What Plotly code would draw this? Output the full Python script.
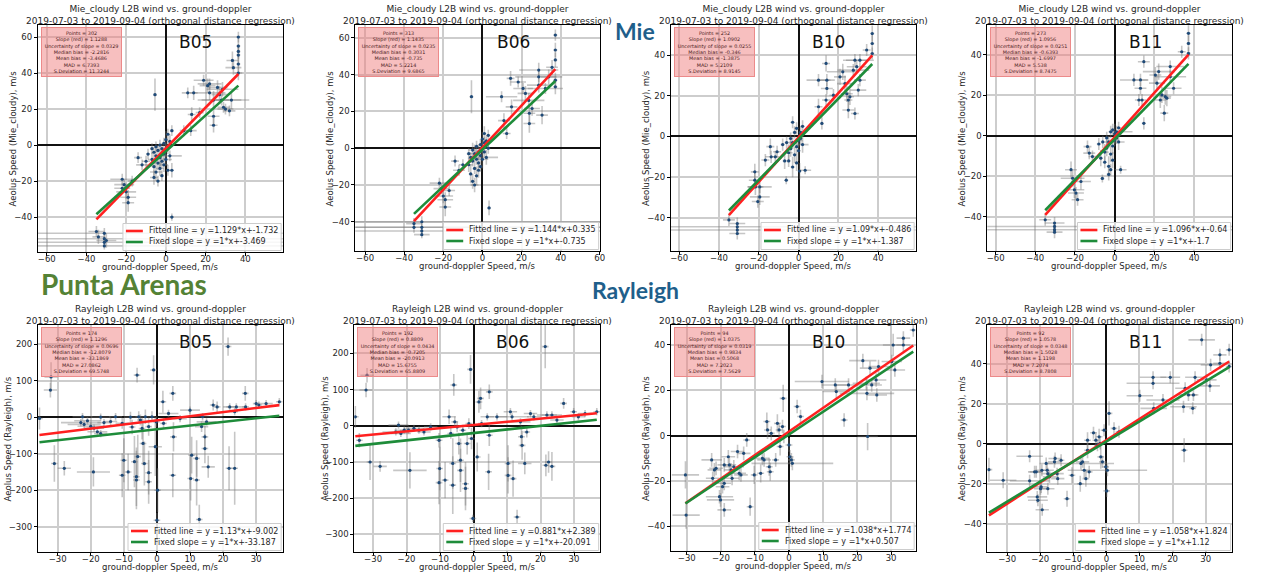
import plotly.graph_objects as go

W, H = 1263, 573
FONT = "DejaVu Sans"

# ---------------- data ----------------
# Mie_cloudy B05
MIE_B05_X = [-35, -34, -31, -31, -31, -31, -30,
             -22, -21, -20, -19, -19, -22, -17,
             -14, -12, -10, -9,
             -7, -7, -6, -6, -6, -5, -5, -5, -4, -4, -4, -3, -3, -3, -2, -2, -2, -1, -1, -1, 0, 0, 0, 1, 1, 1, 2, 2, 3, 3, 3,
             -5.5,
             9, 12.5, 13, 14, 11, 17, 19, 21, 22, 22, 24, 24, 24, 26, 27, 28, 28.5, 29, 30, 32, 33, 33.5, 34,
             36.5, 36.5, 36.5, 36.5, 36.5, 36.5]
MIE_B05_Y = [-48, -51, -49, -52, -54, -56, -53,
             -19, -22, -26, -29, -32, -24, -20,
             -7, -11, -9, -5,
             -2, -8, -4, -12, -18, -1, -6, -15, -3, -10, -20, 0, -7, -13, -2, -9, -17, -5, 1, -11, -3, 3, -8, -1, 6, -14, 2, -6, 8, -14, -40,
             28,
             8, 8, 17, 29, 29, 18, 36, 33, 29, 34, 25, 16, 11, 32, 28, 25, 31, 21, 20, 19, 25, 47, 43,
             60, 55, 52, 50, 45, 40]
MIE_B05_EX = [4, 3, 95, 95, 95, 95, 5,
              6, 5, 5, 4, 3, 4, 2,
              2, 3, 2, 1,
              1, 2, 1, 1, 2, 1, 1, 3, 1, 2, 1, 1, 1, 2, 1, 1, 1, 1, 1, 2, 1, 1, 3, 1, 1, 1, 1, 6, 1, 1, 1,
              1,
              2, 3, 2, 2, 3, 2, 5, 4, 8, 6, 8, 3, 2, 5, 4, 10, 8, 3, 4, 3, 9, 3, 4,
              1, 1, 1, 1, 1, 2]
MIE_B05_EY = [3, 4, 3, 2, 2, 2, 4,
              3, 3, 4, 4, 5, 3, 3,
              3, 3, 3, 3,
              3, 4, 3, 5, 4, 3, 4, 5, 3, 4, 3, 3, 5, 4, 3, 4, 3, 3, 3, 4, 4, 5, 3, 4, 3, 3, 4, 3, 3, 4, 2,
              9,
              3, 3, 4, 4, 3, 3, 3, 4, 4, 3, 5, 5, 4, 4, 5, 3, 4, 3, 3, 3, 5, 5, 4,
              3, 4, 4, 5, 5, 4]

# Mie_cloudy B06
MIE_B06_X = [-35, -35, -31, -31, -31, -31,
             -22, -21, -20, -19, -19, -17, -14, -10, -12,
             -5.6, 3.4,
             -7, -7, -6, -6, -5, -5, -5, -4, -4, -4, -3, -3, -3, -2, -2, -2, -1, -1, -1, 0, 0, 0, 1, 1, 1, 2, 2, 3, 3,
             9.8, 11, 12.4, 14.4, 14.9, 18.3, 20.8, 22, 23.7, 24, 24, 25.4, 28.8, 28.8, 28.8, 30.5, 32.2, 33.9, 35.6,
             37.3, 37.3, 37.3, 37.3, 37.3]
MIE_B06_Y = [-41, -43, -40, -43, -45, -47,
             -19, -22, -26, -28, -32, -23, -7, -9, -12,
             28, -32.5,
             -3, -9, -5, -14, -1, -7, -18, -3, -11, -20, 1, -6, -15, -2, -8, -12, -4, 2, -10, 0, 5, -6, 3, 8, -2, 4, -5, 7, 0,
             28, 15, 8, 38, 22.5, 36, 32.5, 29.8, 26, 19, 13.4, 21.6, 42.5, 38.8, 34.3, 18, 32.5, 38.8, 44,
             61.5, 53.4, 48, 37, 33.4]
MIE_B06_EX = [4, 95, 95, 95, 95, 4,
              5, 4, 5, 4, 3, 3, 2, 2, 3,
              1, 1,
              1, 2, 1, 1, 2, 1, 1, 3, 1, 2, 1, 1, 1, 2, 1, 1, 1, 1, 1, 2, 1, 3, 1, 1, 1, 1, 6, 1, 1,
              8, 3, 2, 2, 3, 4, 5, 4, 8, 3, 3, 4, 10, 12, 6, 3, 9, 4, 3,
              1, 1, 1, 1, 1]
MIE_B06_EY = [3, 3, 3, 2, 2, 2,
              3, 3, 4, 4, 5, 3, 3, 3, 3,
              9, 4,
              3, 4, 3, 5, 4, 3, 4, 5, 3, 4, 3, 3, 5, 4, 3, 4, 3, 3, 3, 4, 4, 5, 3, 4, 3, 3, 4, 3, 3,
              3, 4, 3, 4, 4, 3, 3, 4, 4, 5, 5, 4, 4, 3, 4, 5, 3, 4, 4,
              3, 4, 4, 4, 4]

# Mie_cloudy B10
MIE_B10_X = [-35, -30.8, -30.8, -30.8, -30.8,
             -22, -22, -21.7, -19.5, -19.5, -20.5, -16.7, -14.2, -13.8, -11.7, -10.8, -6.2,
             -8, -7, -6, -5, -5, -4, -4, -3, -3, -3, -2, -2, -1, -1, -1, 0, 0, 0.5, 1, 1, 2, 2, 3.3,
             10, 13.8, 14.2, 14.2, 10, 11.7, 13.8, 17.5, 20.8, 22.2, 23.3, 24.2, 25, 25, 25.8, 27.5, 28.3, 30,
             30.8, 30.8, 34.2, 37, 37, 37, 28.3, 29.2]
MIE_B10_Y = [-41, -42.8, -44.4, -46, -47.7,
             -17.4, -21.5, -24.8, -24.8, -29.7, -32, -11.6, -5, -10, -10, -7.5, -21.5,
             -4, -12, -3, -8, -12, -1, -6, -15, -3, 7, 2, -9, -5, 4, -13, -2, -7, -17, 2, -1, 5, -4, -16.6,
             27.7, 35.9, 27.7, 23.6, 14.6, 6.4, 17.9, 20.3, 29.3, 31.8, 26, 21, 17.9, 13, 19.5, 32.6, 11.3, 22.8,
             27.7, 37.5, 42.5, 50.6, 45.7, 40.8, 37.5, 34.3]
MIE_B10_EX = [3, 4, 95, 95, 4,
              2, 3, 4, 6, 5, 3, 2, 2, 3, 2, 2, 1,
              1, 1, 1, 2, 1, 1, 1, 1, 2, 1, 1, 1, 1, 1, 1, 2, 1, 1, 1, 1, 1, 3, 3,
              6, 2, 4, 3, 2, 1, 2, 2, 3, 8, 4, 3, 2, 3, 2, 8, 2, 4,
              3, 7, 2, 1, 1, 1, 6, 5]
MIE_B10_EY = [3, 3, 2, 2, 3,
              4, 4, 4, 3, 4, 3, 3, 4, 3, 3, 3, 2,
              3, 4, 3, 4, 3, 3, 4, 5, 3, 3, 3, 4, 4, 3, 4, 3, 5, 4, 3, 3, 3, 4, 2,
              3, 4, 3, 3, 4, 3, 3, 3, 4, 4, 4, 4, 4, 4, 4, 3, 3, 3,
              3, 3, 3, 4, 4, 3, 3, 3]

# Mie_cloudy B11
MIE_B11_X = [-35, -30.3, -30.3, -30.3, -30.3,
             -22, -21.2, -20.3, -19.5, -18.7, -17, -13.7, -12.8, -11.2, -6.2, -2, 3,
             -8, -7, -6, -5, -5, -4, -4, -3, -3, -3, -2, -2, -1, -1, -1, 0, 0, 1, 1, 2, 2, 3,
             14.7, 9.7, 13, 13, 12.2, 13.8, 14.7, 20.5, 21.3, 22.2, 23, 23.8, 25, 25.5, 26.3, 28, 28, 29.7,
             33.8, 37.2, 37.2, 37.2]
MIE_B11_Y = [-41.4, -43, -44.7, -46.3, -47.5,
             -16.7, -20.9, -26.6, -28.2, -31.5, -22.5, -5.3, -8.5, -10.2, -21, -16.7, -16.7,
             -4, -11, -3, -8, -13, -1, -6, -15, -3, -19, 2, -9, -5, 3, -12, -2, 1, 2, -1, 4, -3, 2,
             36.6, 27.6, 27.6, 23.5, 17.7, 17.7, 6.2, 30, 26, 31.7, 17.7, 20.2, 11.2, 19.4, 18.6, 34.2, 29.2, 23.5,
             41.5, 50.6, 45.6, 40.7]
MIE_B11_EX = [3, 5, 95, 95, 4,
              3, 6, 5, 4, 3, 5, 2, 3, 2, 1, 1, 3,
              1, 1, 1, 2, 1, 1, 1, 1, 2, 1, 1, 1, 1, 1, 1, 2, 1, 1, 1, 1, 3, 6,
              3, 7, 4, 3, 2, 2, 1, 3, 4, 8, 3, 2, 2, 3, 2, 7, 8, 4,
              2, 1, 1, 1]
MIE_B11_EY = [3, 3, 2, 2, 3,
              4, 4, 4, 3, 3, 4, 3, 3, 3, 2, 3, 2,
              3, 4, 3, 4, 3, 3, 4, 5, 3, 3, 3, 4, 4, 3, 4, 3, 5, 3, 3, 3, 4, 2,
              3, 3, 3, 3, 3, 3, 3, 4, 4, 4, 4, 4, 4, 4, 4, 3, 3, 3,
              3, 4, 4, 3]

# Rayleigh B05
RAY_B05_X = [-35.5, -32, -32.2, -31, -28, -22.5, -23, -22, -21, -20, -19, -18, -17, -16, -14, -19.2, -17, -12.5,
             -10.5, -10, -10.5, -8.7, -8, -7.5, -6.8, -6.2, -6.2, -6, -5.8, -5.5, -5, -4.5, -4.2, -3.8, -3.5,
             -2.5, -2.5, -2.5, -1.5, -1, -0.5, -0.2, 0.2, 0,
             1.8, 2, 3.5, 4.8, 5, 4.8, 7,
             10, 10.5, 10.2, 12, 12, 12.8, 13.5, 13.8, 14.5, 14.5, 15.5, 17, 18.2, 21.5, 21.8, 22, 23.5, 23.5,
             24, 26.7, 26.8, 30, 30.8, 33, 37, 15]
RAY_B05_Y = [-3.6, 110, 74, -127, -140, 1, -15, -20, -10, -25, -30, -40, -45, -15, -12, -150, 0, 1,
             -17, -118, -159, -150, 0, -27, -122, -163, -172, 115, -108, 1, -8, -31, -72, -127, 1,
             -26, -152, -177, 1, 129, -81, -13, -200, -282,
             42, -17, 10, 65, -54, -159, -4,
             19, -104, -168, -113, -172, -280, -26, 1, -86, -54, -136, 33, 28, 193, -140, 28, -140, 15,
             28, 65, 28, 37, 33, 37, 42, -13]
RAY_B05_EX = [1, 2, 2, 1, 2, 3, 6, 5, 4, 4, 3, 3, 2, 2, 2, 5, 3, 2,
              2, 1, 1, 1, 2, 1, 1, 1, 1, 1, 1, 1, 1, 1, 1, 1, 1,
              1, 1, 1, 1, 1, 2, 1, 1, 1,
              1, 1, 3, 1, 1, 1, 2,
              3, 1, 1, 1, 1, 1, 2, 6, 1, 1, 2, 1, 1, 1, 1, 2, 1, 1,
              3, 1, 1, 1, 1, 2, 1, 3]
RAY_B05_EY = [30, 40, 20, 50, 20, 10, 10, 10, 10, 10, 10, 10, 10, 10, 10, 40, 10, 10,
              15, 60, 60, 50, 15, 20, 70, 80, 80, 20, 60, 15, 15, 30, 60, 60, 20,
              25, 60, 60, 15, 40, 80, 15, 60, 20,
              30, 15, 10, 20, 40, 60, 10,
              10, 50, 60, 50, 70, 40, 15, 10, 40, 30, 30, 15, 15, 25, 60, 10, 100, 10,
              10, 20, 10, 10, 10, 10, 10, 10]

# Rayleigh B06
RAY_B06_X = [-35.3, -34.1, -31.8, -32.1, -30.9, -27.9, -22.4, -23.2, -21.7, -20.7, -19.4, -19, -17.8, -16.3, -14.8, -12.8,
             -10.3, -10.1, -10.3, -8.5, -7.3, -6.8, -6.2, -6.2, -5.9, -5.6, -4.9, -4.4, -3.9, -3.9, -3.2,
             -2.4, -2.4, -1.9, -1.4, -0.9, -0.6, -0.2,
             1.1, 1.6, 2.1, 2.4, 4.1, 4.7, 4.7, 4.5, 7,
             10.3, 10.3, 11, 11.5, 11.8, 13, 14, 14.3, 14.5, 15.3, 15.9, 17, 18, 21.4, 21.6, 22.4, 23.4,
             21.9, 23.4, 24.9, 26.9, 29.9, 31.3, 33.3, 36.8]
RAY_B06_Y = [25, -40, 140, 99, -100, -112, 2, -17, -21, -12, -12, -123, -7, -12, -17, -3,
             -40, -118, -157, -150, 25, -21, -104, -164, 113, 11, -3, -49, -95, -123, -12,
             -160, -173, -49, 6, 156, -35, -256,
             -86, 66, 76, 6, 25, 94, -26, -127, 25,
             -104, -137, 39, 25, -146, -252, 11, -30, -54, -104, -17, 34, 25, 219, -109, -100, -112,
             30, 30, 16, 62, 39, 25, 34, 39]
RAY_B06_EX = [1, 1, 2, 2, 1, 2, 3, 4, 3, 3, 2, 5, 3, 2, 2, 2,
              1, 1, 1, 1, 2, 1, 1, 1, 1, 1, 1, 1, 1, 1, 1,
              1, 1, 1, 1, 1, 1, 1,
              1, 1, 1, 1, 2, 1, 1, 1, 3,
              1, 1, 2, 5, 1, 1, 3, 1, 1, 2, 1, 2, 2, 1, 1, 1, 1,
              3, 3, 2, 1, 1, 2, 2, 1]
RAY_B06_EY = [30, 20, 20, 20, 50, 15, 10, 10, 10, 10, 10, 50, 10, 10, 10, 10,
              20, 60, 60, 50, 20, 15, 70, 80, 30, 15, 15, 30, 60, 60, 15,
              60, 60, 30, 15, 40, 30, 10,
              40, 30, 30, 10, 10, 20, 30, 50, 10,
              50, 50, 10, 10, 50, 20, 10, 30, 40, 30, 15, 10, 10, 60, 30, 30, 40,
              10, 10, 10, 15, 10, 10, 10, 10]

# Rayleigh B10
RAY_B10_X = [-30.4, -30.2, -22.7, -22.4, -21.9, -21.4, -20.4, -20.1, -19.5, -19,
             -19, -19, -17.8, -17.5, -17, -16.7, -16.2, -15.1, -14.6, -14.1,
             -13.3, -12.4, -11.4, -10.2, -8.3, -7.8, -7.3, -6.5, -6.3, -5.8,
             -5.5, -5.2, -3.9, -3.4, -2.9, -2.6, -1.9, -1.7, -1.5, 0,
             0.3, 0.7, 1, 2.4, 3.4,
             9.7, 13.6, 13.9, 16.2, 17.5, 21.7, 22.7, 22.9, 23.1, 23.8,
             24.3, 25.6, 25.8, 26.3, 30.2, 30.6, 31.1, 33.6, 33.6, 36.5]
RAY_B10_Y = [-17.3, -35, -10.7, -18.8, -15.1, -14.4, -26.9, -28.3, -22.5, -21,
             -32.7, -12.9, -9.3, -12.9, -15.1, -18.8, -13.7, -7, -16.6, -17.3,
             -7.8, -1.9, -31.3, -17.3, -16.6, -10, -10.7, 6.2, 2.5, -13.7,
             -15.9, 1, -10.7, 5.4, 2.5, -4.8, 4, 16.4, -0.4, -4.1,
             -9.3, -10.7, -12.2, 12.8, 8.4,
             23.8, 22.3, 19.4, 6.9, 22.3, 33, 23, 18.6, -0.4, 29.7,
             22.3, 24.5, 17.9, 30.4, 32.6, 39.9, 28.9, 42.9, 39.9, 46.5]
RAY_B10_EX = [4, 4, 3, 2, 2, 2, 4, 4, 2, 2,
              2, 2, 2, 2, 2, 2, 3, 2, 2, 2,
              2, 1, 1, 1, 1, 2, 2, 1, 1, 1,
              1, 1, 1, 1, 1, 1, 1, 1, 1, 1,
              1, 1, 12, 1, 1,
              8, 4, 4, 1, 4, 4, 4, 8, 3, 3,
              3, 3, 3, 3, 3, 3, 3, 2, 2, 1]
RAY_B10_EY = [6, 6, 3, 3, 3, 3, 3, 3, 3, 3,
              3, 3, 3, 3, 3, 3, 3, 3, 3, 3,
              3, 3, 4, 4, 4, 3, 3, 4, 4, 4,
              4, 3, 3, 4, 3, 4, 3, 6, 3, 3,
              3, 3, 3, 3, 3,
              3, 3, 3, 3, 3, 3, 3, 3, 6, 3,
              3, 3, 3, 3, 3, 5, 3, 3, 3, 3]

# Rayleigh B11
RAY_B11_X = [-35.5, -31.2, -23.2, -23.2, -21.7, -21.2, -20.9, -20.7, -19.9, -19.7,
             -19.4, -19.5, -18.2, -17.9, -17.7, -17.7, -17.2, -15.7, -15.5, -14.9,
             -14.7, -13.7, -11.9, -10.4, -7.9, -7.7, -7.2, -6.7, -6.2, -5.7,
             -5.7, -5.2, -3.9, -3.2, -2.7, -2.2, -1.9, -1.7, -1.2, -0.7,
             -0.2, 0.3, 0.1, 0.8, 2.3, 3.8,
             10.1, 14.1, 14.1, 14.3, 17.1, 19.3, 23.3, 23.5, 23.8, 24.8,
             26.1, 26.3, 26.8, 28.8, 30.3, 31.3, 31.5, 34.3, 34.3, 37.1, 37.1]
RAY_B11_Y = [-12.9, -18.2, -6.2, -18.5, -14, -14, -26.5, -28.2, -22.4, -21.5,
             -32.9, -13.2, -9.8, -13.2, -14.9, -22.4, -16.5, -9, -7.3, -14.9,
             -17.4, -8.2, -27.4, -15.7, -19.9, -9.8, -9, -13.2, -17.4, 1.8,
             -3.2, -14, 5.5, 1.8, -0.7, 3.5, 0.2, -6.5, -9, 6.8,
             -11.5, -13.2, -23.5, 15.2, 7.7, 6,
             24, 30.2, 33.2, 17.7, 21.9, 33.2, 18.5, -3.2, 27.7, 24.4,
             17.7, 24.4, 33.2, 51.9, 31.9, 28.9, 39.4, 40.2, 44.4, 46.9, 38.6]
RAY_B11_EX = [1, 4, 4, 6, 2, 2, 3, 3, 2, 2,
              2, 2, 2, 2, 2, 2, 2, 2, 2, 2,
              2, 1, 1, 1, 1, 10, 2, 1, 1, 1,
              1, 1, 1, 1, 1, 1, 1, 1, 1, 1,
              1, 12, 1, 1, 1, 1,
              4, 8, 4, 4, 5, 3, 4, 1, 3, 3,
              1, 1, 3, 4, 3, 3, 3, 2, 2, 1, 1]
RAY_B11_EY = [6, 4, 3, 3, 3, 3, 3, 3, 3, 3,
              3, 3, 3, 3, 3, 3, 3, 3, 3, 3,
              3, 3, 4, 4, 4, 3, 3, 4, 4, 4,
              4, 3, 3, 4, 3, 4, 3, 6, 3, 3,
              3, 3, 3, 6, 3, 3,
              3, 3, 3, 3, 3, 3, 3, 6, 3, 3,
              3, 3, 3, 3, 3, 3, 3, 3, 3, 3, 3]

# statistics boxes: points, slope, uncertainty, median bias, mean bias, MAD, S.Deviation
STAT_LABELS = ["Points", "Slope (red)", "Uncertainty of slope", "Median bias",
               "Mean bias", "MAD", "S.Deviation"]
STATS_MIE_B05 = [302, 1.1288, 0.0329, -2.2816, -3.4686, 6.7393, 11.3244]
STATS_MIE_B06 = [313, 1.1435, 0.0235, 0.3031, -0.735, 5.2214, 9.6865]
STATS_MIE_B10 = [252, 1.0902, 0.0255, -0.346, -1.3875, 5.2109, 8.9145]
STATS_MIE_B11 = [273, 1.0956, 0.0251, -0.6393, -1.6997, 5.538, 8.7475]
STATS_RAY_B05 = [174, 1.1296, 0.0696, -12.8079, -33.1869, 27.0862, 69.5748]
STATS_RAY_B06 = [192, 0.8809, 0.0434, -0.7205, -20.0913, 15.6755, 65.8809]
STATS_RAY_B10 = [94, 1.0375, 0.0319, 0.9834, 0.5068, 7.2023, 7.5629]
STATS_RAY_B11 = [92, 1.0578, 0.0348, 1.5028, 1.1198, 7.2074, 8.7808]

# fits: [slope, intercept] of fitted line, intercept of fixed-slope (=1) line
FIT_MIE_B05 = [1.129, -1.732, -3.469]
FIT_MIE_B06 = [1.144, 0.335, -0.735]
FIT_MIE_B10 = [1.09, -0.486, -1.387]
FIT_MIE_B11 = [1.096, -0.64, -1.7]
FIT_RAY_B05 = [1.13, -9.002, -33.187]
FIT_RAY_B06 = [0.881, 2.389, -20.091]
FIT_RAY_B10 = [1.038, 1.774, 0.507]
FIT_RAY_B11 = [1.058, 1.824, 1.12]

# ---------------- layout of the panels (pixels) ----------------
PANELS = [
    dict(x=MIE_B05_X, y=MIE_B05_Y, ex=MIE_B05_EX, ey=MIE_B05_EY, st=STATS_MIE_B05, fit=FIT_MIE_B05, ytoff=25,
         kind="Mie_cloudy", label="B05", box=(37, 25, 283, 252), xr=(-64.5, 58.8), yr=(-59.4, 66.7), dx=20, dy=20),
    dict(x=MIE_B06_X, y=MIE_B06_Y, ex=MIE_B06_EX, ey=MIE_B06_EY, st=STATS_MIE_B06, fit=FIT_MIE_B06, ytoff=25,
         kind="Mie_cloudy", label="B06", box=(356, 25, 602, 251), xr=(-65, 60.2), yr=(-55.9, 67), dx=20, dy=20),
    dict(x=MIE_B10_X, y=MIE_B10_Y, ex=MIE_B10_EX, ey=MIE_B10_EY, st=STATS_MIE_B10, fit=FIT_MIE_B10, ytoff=25,
         kind="Mie_cloudy", label="B10", box=(673, 25, 919, 251), xr=(-64.2, 58.8), yr=(-56.3, 54.8), dx=20, dy=20),
    dict(x=MIE_B11_X, y=MIE_B11_Y, ex=MIE_B11_EX, ey=MIE_B11_EY, st=STATS_MIE_B11, fit=FIT_MIE_B11, ytoff=25,
         kind="Mie_cloudy", label="B11", box=(991, 25, 1237, 251), xr=(-64.2, 59.2), yr=(-56.8, 54.7), dx=20, dy=20),
    dict(x=RAY_B05_X, y=RAY_B05_Y, ex=RAY_B05_EX, ey=RAY_B05_EY, st=STATS_RAY_B05, fit=FIT_RAY_B05, ytoff=30,
         kind="Rayleigh", label="B05", box=(37, 325, 283, 552), xr=(-36, 38), yr=(-369, 252), dx=10, dy=100),
    dict(x=RAY_B06_X, y=RAY_B06_Y, ex=RAY_B06_EX, ey=RAY_B06_EY, st=STATS_RAY_B06, fit=FIT_RAY_B06, ytoff=30,
         kind="Rayleigh", label="B06", box=(355, 325, 602, 552), xr=(-35.6, 37.8), yr=(-348.7, 278.7), dx=10, dy=100),
    dict(x=RAY_B10_X, y=RAY_B10_Y, ex=RAY_B10_EX, ey=RAY_B10_EY, st=STATS_RAY_B10, fit=FIT_RAY_B10, ytoff=25,
         kind="Rayleigh", label="B10", box=(673, 325, 919, 551), xr=(-34.7, 37.2), yr=(-50.8, 48.7), dx=10, dy=20),
    dict(x=RAY_B11_X, y=RAY_B11_Y, ex=RAY_B11_EX, ey=RAY_B11_EY, st=STATS_RAY_B11, fit=FIT_RAY_B11, ytoff=26,
         kind="Rayleigh", label="B11", box=(991, 325, 1237, 552), xr=(-36, 38), yr=(-54, 59.3), dx=10, dy=20),
]

# DejaVu Sans advance widths (em) for legend box sizing
CW = {'F': .575, 'i': .278, 't': .392, 'e': .615, 'd': .635, ' ': .318, 'l': .278, 'n': .634,
      '=': .838, 'y': .592, '*': .5, 'x': .592, '+': .838, '-': .361, '.': .318, 'o': .612,
      's': .521, 'p': .635}


def text_w(s, size):
    return sum(CW.get(c, .636) for c in s) * size


RED = "#ff2020"
GREEN = "#1e8c3a"
TXT = "#262626"
LEG_FS = 8

fig = go.Figure()
layout = dict(width=W, height=H, margin=dict(l=0, r=0, t=0, b=0),
              paper_bgcolor="white", plot_bgcolor="white", showlegend=False,
              font=dict(family=FONT, size=8, color=TXT))
annotations = []
shapes = []

for i, p in enumerate(PANELS, start=1):
    xa = "x" if i == 1 else f"x{i}"
    ya = "y" if i == 1 else f"y{i}"
    L, T, R, B = p["box"]
    axis_common = dict(showline=True, mirror=True, linecolor="black", linewidth=1,
                       ticks="outside", ticklen=3, tickwidth=1, tickcolor="black",
                       showgrid=True, gridcolor="#cdcdcd", gridwidth=1.6,
                       zeroline=True, zerolinecolor="#111111", zerolinewidth=2,
                       tickfont=dict(family=FONT, size=8.5, color=TXT), tick0=0)
    layout["xaxis" if i == 1 else f"xaxis{i}"] = dict(
        axis_common, domain=[L / W, R / W], anchor=ya, range=list(p["xr"]), dtick=p["dx"],
        ticklabelstandoff=-4)
    layout["yaxis" if i == 1 else f"yaxis{i}"] = dict(
        axis_common, domain=[1 - B / H, 1 - T / H], anchor=xa, range=list(p["yr"]), dtick=p["dy"])

    fig.add_trace(go.Scatter(
        x=p["x"], y=p["y"], mode="markers", xaxis=xa, yaxis=ya,
        marker=dict(color="#1f4a78", size=3.2),
        error_x=dict(type="data", array=p["ex"], symmetric=True, color="rgba(120,120,120,0.42)", thickness=1.6, width=0),
        error_y=dict(type="data", array=p["ey"], symmetric=True, color="rgba(120,120,120,0.42)", thickness=1.6, width=0),
        hoverinfo="skip"))
    a, b, c = p["fit"]
    xs = [min(p["x"]), max(p["x"])]
    fig.add_trace(go.Scatter(x=xs, y=[a * v + b for v in xs], mode="lines", xaxis=xa, yaxis=ya,
                             line=dict(color=RED, width=2.6), hoverinfo="skip"))
    fig.add_trace(go.Scatter(x=xs, y=[v + c for v in xs], mode="lines", xaxis=xa, yaxis=ya,
                             line=dict(color=GREEN, width=2.6), hoverinfo="skip"))

    xd = f"{xa} domain"
    yd = f"{ya} domain"
    # axis titles
    annotations.append(dict(xref="paper", yref="paper", x=(L + R) / 2 / W, y=1 - (B + 14.5) / H,
                            xanchor="center", yanchor="middle", showarrow=False,
                            text="ground-doppler Speed, m/s", font=dict(family=FONT, size=8.5, color=TXT)))
    annotations.append(dict(xref="paper", yref="paper", x=(L - p["ytoff"]) / W, y=1 - (T + B) / 2 / H,
                            xanchor="center", yanchor="middle", showarrow=False, textangle=-90,
                            text=f"Aeolus Speed ({p['kind']}), m/s", font=dict(family=FONT, size=8.5, color=TXT)))
    # panel title
    annotations.append(dict(
        xref=xd, yref=yd, x=0.5, y=1, xanchor="center", yanchor="bottom", yshift=-3, showarrow=False,
        text=f"{p['kind']} L2B wind vs. ground-doppler"
             "<br>2019-07-03 to 2019-09-04 (orthogonal distance regression)",
        font=dict(family=FONT, size=9, color=TXT), align="center"))
    # band label
    annotations.append(dict(xref=xd, yref=yd, x=0.645, y=0.925, xanchor="center", yanchor="middle",
                            showarrow=False, text=p["label"], font=dict(family=FONT, size=17, color="#111111")))
    # stats box
    st = p["st"]
    stats_text = "<br>".join(f"{lab} = {val}" for lab, val in zip(STAT_LABELS, st))
    annotations.append(dict(xref=xd, yref=yd, x=3 / (R - L), y=1 - 2 / (B - T), xanchor="left", yanchor="top",
                            showarrow=False, text=stats_text, align="center", width=75,
                            bgcolor="rgba(240,128,128,0.5)", bordercolor="#ec8a8a", borderwidth=1, borderpad=2,
                            font=dict(family=FONT, size=4.9, color="#4a2020")))
    # legend (custom)
    t1 = f"Fitted line = y ={a}*x+{b}"
    t2 = f"Fixed slope = y =1*x+{c}"
    bw = 24 + max(text_w(t1, LEG_FS), text_w(t2, LEG_FS)) + 5
    bR, bB = R - 1.5, B - 1.5
    bL, bT = bR - bw, bB - 27
    shapes.append(dict(type="rect", xref="paper", yref="paper", x0=bL / W, x1=bR / W,
                       y0=1 - bB / H, y1=1 - bT / H, fillcolor="rgba(255,255,255,0.85)",
                       line=dict(color="#cccccc", width=1), layer="above"))
    for row, (txt, col) in enumerate([(t1, RED), (t2, GREEN)]):
        yy = bT + 7.5 + row * 11
        shapes.append(dict(type="line", xref="paper", yref="paper", x0=(bL + 3) / W, x1=(bL + 20) / W,
                           y0=1 - yy / H, y1=1 - yy / H, line=dict(color=col, width=2.6), layer="above"))
        annotations.append(dict(xref="paper", yref="paper", x=(bL + 24) / W, y=1 - yy / H,
                                xanchor="left", yanchor="middle", showarrow=False, text=txt,
                                font=dict(family=FONT, size=LEG_FS, color=TXT)))

# big section labels
annotations.append(dict(xref="paper", yref="paper", x=637 / W, y=1 - 31 / H, xanchor="center", yanchor="middle",
                        showarrow=False, text="<b>Mie</b>", font=dict(family="Lato", size=23, color="#1f5f8b")))
annotations.append(dict(xref="paper", yref="paper", x=124 / W, y=1 - 284 / H, xanchor="center", yanchor="middle",
                        showarrow=False, text="<b>Punta Arenas</b>", font=dict(family="Lato", size=28, color="#548235")))
annotations.append(dict(xref="paper", yref="paper", x=638 / W, y=1 - 290 / H, xanchor="center", yanchor="middle",
                        showarrow=False, text="<b>Rayleigh</b>", font=dict(family="Lato", size=23, color="#1f5f8b")))

layout["annotations"] = annotations
layout["shapes"] = shapes
fig.update_layout(**layout)
fig.write_html("out.html")
